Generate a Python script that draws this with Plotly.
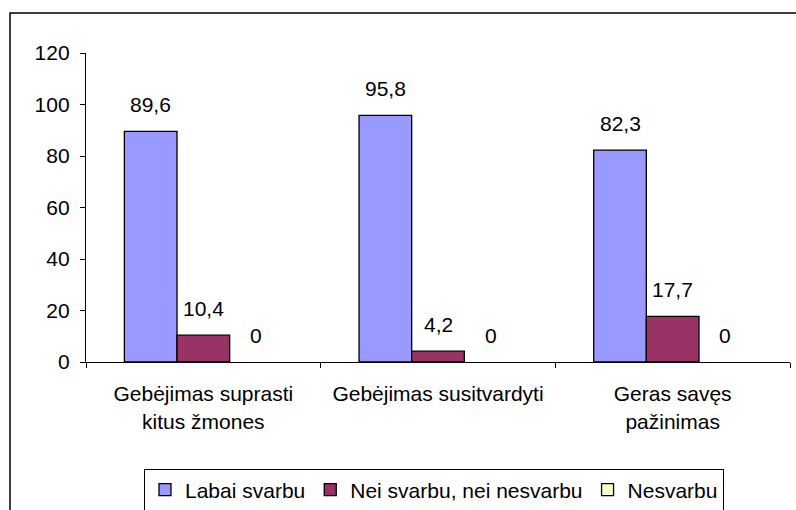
import plotly.graph_objects as go

categories = ["Gebėjimas suprasti<br>kitus žmones", "Gebėjimas susitvardyti", "Geras savęs<br>pažinimas"]
series_names = ["Labai svarbu", "Nei svarbu, nei nesvarbu", "Nesvarbu"]
labai_svarbu = [89.6, 95.8, 82.3]
nei_svarbu = [10.4, 4.2, 17.7]
nesvarbu = [0, 0, 0]
y_ticks = [0, 20, 40, 60, 80, 100, 120]

series_values = [labai_svarbu, nei_svarbu, nesvarbu]
colors = ["#9999FF", "#993366", "#FFFFCC"]
FONT = "Liberation Sans, Arial, sans-serif"
FS = 21

W, H = 796, 510
ML, MR, MT, MB = 86, 6, 53, 148
PW = W - ML - MR
PH = H - MT - MB

fig = go.Figure()
for k, (name, vals, col) in enumerate(zip(series_names, series_values, colors)):
    zero_series = all(v == 0 for v in vals)
    fig.add_trace(go.Bar(
        x=categories, y=vals, name=name, offsetgroup=str(k),
        showlegend=not zero_series,
        marker=dict(color=col, line=dict(color="black", width=0 if zero_series else 1.3)),
    ))
    if zero_series:
        # legend entry only (zero-height bars are not outlined in the reference)
        fig.add_trace(go.Bar(
            x=[categories[0]], y=[None], name=name, offsetgroup=str(k),
            marker=dict(color=col, line=dict(color="black", width=1.3)),
            hoverinfo="skip",
        ))

def fmt(v):
    return f"{v:g}".replace(".", ",")

cat_px = PW / len(categories)
bargap = 0.327
bar_px = cat_px * (1 - bargap) / len(series_names)
annotations = []
for i, vals in enumerate(series_values):
    for c, v in zip(categories, vals):
        annotations.append(dict(
            x=c, y=v, xref="x", yref="y", text=fmt(v), showarrow=False,
            xshift=(i - 1) * bar_px, yanchor="bottom", yshift=13,
            font=dict(family=FONT, size=FS, color="black"),
        ))

# outer chart-area frame (left and top edges visible)
x_left = (10 - ML) / PW
y_top = (H - MB - 13) / PH
x_right = (W + 20 - ML) / PW
y_bot = -(MB + 20) / PH
shapes = [dict(type="rect", xref="paper", yref="paper", x0=x_left, x1=x_right,
               y0=y_bot, y1=y_top, line=dict(color="black", width=1.5),
               fillcolor="rgba(0,0,0,0)", layer="below")]

fig.update_layout(
    width=W, height=H,
    margin=dict(l=ML, r=MR, t=MT, b=MB, pad=0, autoexpand=False),
    paper_bgcolor="white", plot_bgcolor="white",
    barmode="group", bargap=bargap, bargroupgap=0,
    font=dict(family=FONT, size=FS, color="black"),
    showlegend=True,
    legend=dict(
        orientation="h", xref="container", yref="container",
        x=434 / W, xanchor="center", y=(H - 490) / H, yanchor="middle",
        bordercolor="black", borderwidth=1, bgcolor="white",
        font=dict(family=FONT, size=FS, color="black"),
        itemwidth=30, traceorder="normal",
    ),
    xaxis=dict(
        showline=True, linecolor="black", linewidth=1.3, automargin=False,
        ticks="outside", ticklen=5, tickcolor="black", tickwidth=1.3,
        tickson="boundaries", showgrid=False, zeroline=False,
        tickfont=dict(family=FONT, size=FS, color="black"),
        ticklabelstandoff=13,
    ),
    yaxis=dict(
        range=[0, 120], tickvals=y_ticks, ticktext=[str(t) for t in y_ticks],
        showline=True, linecolor="black", linewidth=1.3, automargin=False,
        ticks="outside", ticklen=5, tickcolor="black", tickwidth=1.3,
        showgrid=False, zeroline=False, ticklabelstandoff=6,
        tickfont=dict(family=FONT, size=FS, color="black"),
    ),
    annotations=annotations,
    shapes=shapes,
)

fig.write_html("out.html",
               config={"displayModeBar": False},
               post_script="document.body.style.margin='0';document.body.style.overflow='hidden';")
